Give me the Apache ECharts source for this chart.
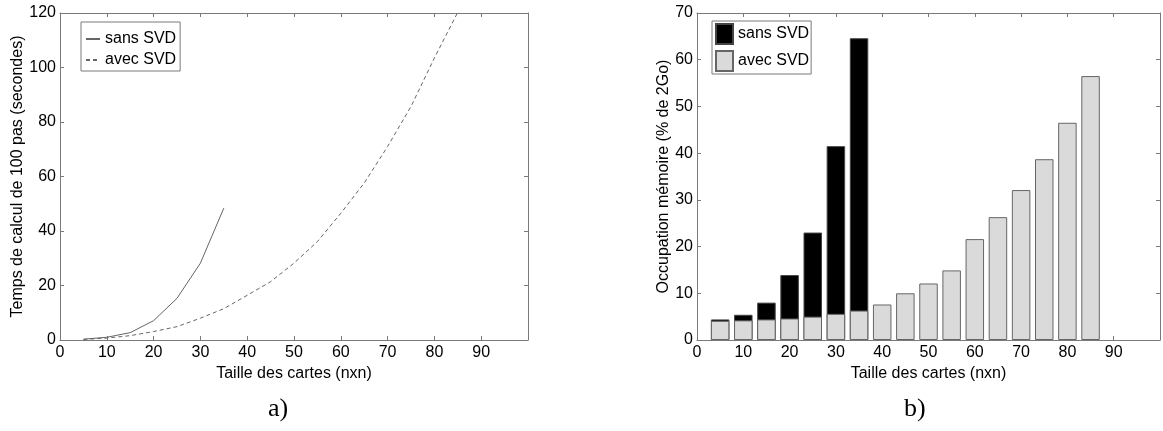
<!DOCTYPE html>
<html>
<head>
<meta charset="utf-8">
<script src="https://cdn.jsdelivr.net/npm/echarts@6/dist/echarts.min.js"></script>
<style>
html,body{margin:0;padding:0;background:#fff;}
#c{width:1163px;height:431px;}
</style>
</head>
<body>
<div id="c"></div>
<script>
// ---- Data ----
const sansX = [5, 10, 15, 20, 25, 30, 35];
const sansTime = [0.3, 1.0, 2.7, 7.1, 15.3, 28.2, 48.4];
const avecX = [5, 10, 15, 20, 25, 30, 35, 40, 45, 50, 55, 60, 65, 70, 75, 80, 85];
const avecTime = [0.2, 0.7, 1.6, 3.1, 4.9, 8.0, 11.5, 16.4, 21.4, 28.2, 36.1, 46.5, 57.6, 71.0, 85.7, 103.5, 120.3];

const memX = [5, 10, 15, 20, 25, 30, 35, 40, 45, 50, 55, 60, 65, 70, 75, 80, 85];
const memSans = [4.4, 5.4, 8.0, 13.9, 23.0, 41.5, 64.6, null, null, null, null, null, null, null, null, null, null];
const memAvec = [4.1, 4.2, 4.4, 4.6, 5.0, 5.6, 6.3, 7.6, 10.0, 12.1, 14.9, 21.6, 26.3, 32.1, 38.7, 46.5, 56.5];

const xTicksMax = 100;
const leftYMax = 120;
const rightYMax = 70;

const names = { sans: 'sans SVD', avec: 'avec SVD' };
const titles = {
  x: 'Taille des cartes (nxn)',
  yLeft: 'Temps de calcul de 100 pas (secondes)',
  yRight: 'Occupation mémoire (% de 2Go)',
  capA: 'a)',
  capB: 'b)'
};

// ---- Helpers ----
const pairs = (xs, ys) => xs.map((x, i) => [x, ys[i]]);
const FONT = 'Liberation Sans, Arial, sans-serif';
const AXC = '#7a7a7a';
const txt = { color: '#000', fontFamily: FONT, fontSize: 16 };

function xAx(grid, pos, showLabel, name) {
  return {
    type: 'value', gridIndex: grid, position: pos, min: 0, max: xTicksMax, interval: 10,
    axisLine: { show: true, onZero: false, lineStyle: { color: AXC, width: 1 } },
    axisTick: { show: true, inside: true, length: 4, lineStyle: { color: AXC } },
    axisLabel: { show: showLabel, margin: 5, ...txt, formatter: v => (v >= 100 ? '' : String(v)) },
    splitLine: { show: false },
    name: name || '', nameLocation: 'middle', nameGap: 23, nameTextStyle: txt
  };
}
function yAx(grid, pos, max, showLabel, name, gap) {
  return {
    type: 'value', gridIndex: grid, position: pos, min: 0, max: max, interval: 10 * (max === leftYMax ? 2 : 1),
    axisLine: { show: true, onZero: false, lineStyle: { color: AXC, width: 1 } },
    axisTick: { show: true, inside: true, length: 4, lineStyle: { color: AXC } },
    axisLabel: { show: showLabel, margin: 4, ...txt },
    splitLine: { show: false },
    name: name || '', nameLocation: 'middle', nameGap: gap || 0, nameRotate: 90, nameTextStyle: txt
  };
}

const hideSym = { opacity: 0, color: 'transparent', borderWidth: 0 };

const chart = echarts.init(document.getElementById('c'), null, { renderer: 'canvas' });
chart.setOption({
  backgroundColor: '#fff',
  animation: false,
  grid: [
    { left: 60, top: 13, width: 468, height: 327 },
    { left: 697, top: 13, width: 468, height: 327 }
  ],
  xAxis: [
    xAx(0, 'bottom', true, titles.x),
    xAx(0, 'top', false),
    xAx(1, 'bottom', true, titles.x),
    xAx(1, 'top', false)
  ],
  yAxis: [
    yAx(0, 'left', leftYMax, true, titles.yLeft, 33),
    yAx(0, 'right', leftYMax, false),
    yAx(1, 'left', rightYMax, true, titles.yRight, 24),
    yAx(1, 'right', rightYMax, false)
  ],
  legend: [
    {
      left: 81, top: 22, orient: 'vertical',
      data: [
        { name: names.sans, itemStyle: hideSym },
        { name: names.avec, itemStyle: hideSym }
      ],
      borderColor: AXC, borderWidth: 1, padding: [9, 4, 3, 4], itemGap: 5,
      itemWidth: 14, itemHeight: 12, textStyle: txt, selectedMode: false
    },
    {
      left: 712, top: 21, orient: 'vertical',
      data: [
        { name: names.sans + ' ', icon: 'rect' },
        { name: names.avec + ' ', icon: 'rect' }
      ],
      formatter: n => n.trim(),
      borderColor: AXC, borderWidth: 1, padding: [2, 2, 2, 3], itemGap: 5,
      itemWidth: 17, itemHeight: 20, textStyle: txt, selectedMode: false
    }
  ],
  series: [
    {
      name: names.sans, type: 'line', xAxisIndex: 0, yAxisIndex: 0,
      data: pairs(sansX, sansTime), symbol: 'none',
      lineStyle: { color: '#666', width: 1, type: 'solid' }, itemStyle: { color: '#666' }
    },
    {
      name: names.avec, type: 'line', xAxisIndex: 0, yAxisIndex: 0,
      data: pairs(avecX, avecTime), symbol: 'none',
      lineStyle: { color: '#666', width: 1, type: [4, 3] }, itemStyle: { color: '#666' }
    },
    {
      name: names.sans + ' ', type: 'bar', xAxisIndex: 2, yAxisIndex: 2,
      data: pairs(memX, memSans), barWidth: 18.5,
      itemStyle: { color: '#000', borderColor: '#444', borderWidth: 1 }
    },
    {
      name: names.avec + ' ', type: 'bar', xAxisIndex: 2, yAxisIndex: 2,
      data: pairs(memX, memAvec), barWidth: 18.5, barGap: '-100%',
      itemStyle: { color: '#dadada', borderColor: '#666', borderWidth: 1 }
    }
  ],
  graphic: [
    { type: 'text', left: 268, top: 396, style: { text: titles.capA, font: '26px "Liberation Serif", serif', fill: '#000' } },
    { type: 'text', left: 904, top: 396, style: { text: titles.capB, font: '26px "Liberation Serif", serif', fill: '#000' } }
  ]
});
</script>
</body>
</html>
